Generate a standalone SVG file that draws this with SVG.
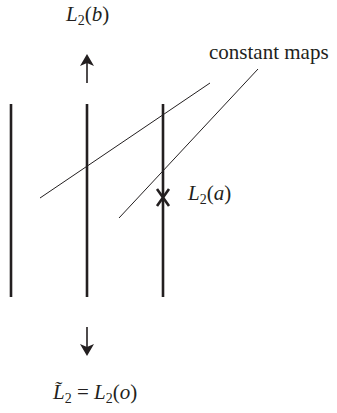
<svg xmlns="http://www.w3.org/2000/svg" width="337" height="413" viewBox="0 0 337 413">
<style>
.sheet{stroke:#231f20;stroke-width:2.6;fill:none}
.thin{stroke:#231f20;stroke-width:1;fill:none}
.arr{stroke:#231f20;stroke-width:1.6;fill:none}
.head{fill:#231f20}
text{font-family:"Liberation Serif","Times New Roman",serif;fill:#231f20;font-size:21px}
.it{font-style:italic}
.sub{font-size:14px}
</style>
<rect width="337" height="413" fill="#fff"/>
<g id="sheets">
<g id="sheet1"><line class="sheet" x1="11" y1="104" x2="11" y2="297"/></g>
<g id="sheet2"><line class="sheet" x1="87" y1="104" x2="87" y2="297"/></g>
<g id="sheet3"><line class="sheet" x1="163" y1="104" x2="163" y2="297"/></g>
</g>
<g id="connectors">
<line class="thin" x1="210" y1="83" x2="40" y2="198"/>
<line class="thin" x1="258" y1="69" x2="119" y2="218"/>
<line class="arr" x1="87" y1="83" x2="87" y2="60"/>
<path class="head" d="M87,54 L94,66 L87,63 L80,66 Z"/>
<line class="arr" x1="87" y1="327" x2="87" y2="350"/>
<path class="head" d="M87,356 L94,344 L87,347 L80,344 Z"/>
</g>
<g id="mark"><path d="M157,189 L169,206 M169,189 L157,206" stroke="#231f20" stroke-width="2.6" fill="none"/></g>
<g id="label-b"><text x="66" y="21"><tspan class="it">L</tspan><tspan class="sub" dy="4">2</tspan><tspan dy="-4">(</tspan><tspan class="it">b</tspan>)</text></g>
<g id="label-const"><text x="209" y="59">constant maps</text></g>
<g id="label-a"><text x="188" y="200"><tspan class="it">L</tspan><tspan class="sub" dy="4">2</tspan><tspan dy="-4">(</tspan><tspan class="it">a</tspan>)</text></g>
<g id="label-o"><text x="53" y="399"><tspan class="it">L̃</tspan><tspan class="sub" dy="4">2</tspan><tspan dy="-4"> = </tspan><tspan class="it">L</tspan><tspan class="sub" dy="4">2</tspan><tspan dy="-4">(</tspan><tspan class="it">o</tspan>)</text></g>
</svg>
